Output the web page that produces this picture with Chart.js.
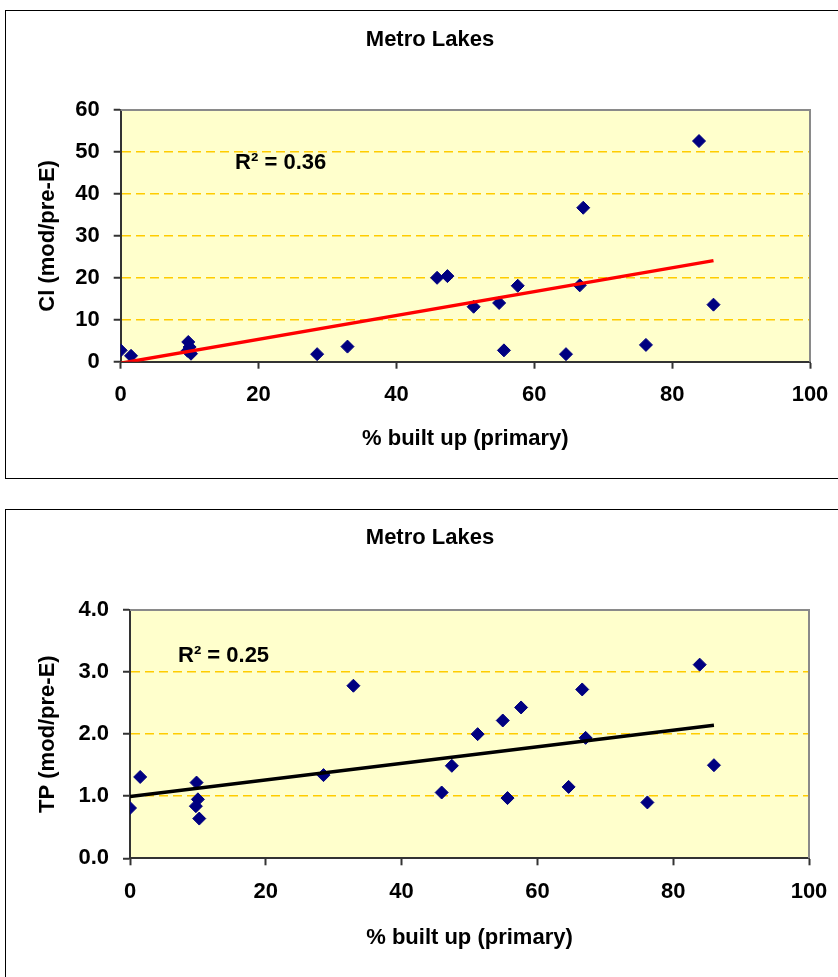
<!DOCTYPE html>
<html>
<head>
<meta charset="utf-8">
<title>Metro Lakes</title>
<script src="https://cdn.jsdelivr.net/npm/chart.js@4.4.1/dist/chart.umd.min.js"></script>
<style>
  html, body { margin: 0; padding: 0; background: #fff; width: 838px; height: 977px; overflow: hidden; }
  .frame { position: absolute; box-sizing: border-box; border: 1px solid #000; }
  canvas { position: absolute; }
</style>
</head>
<body>
<div class="frame" style="left:5px; top:10px; width:851px; height:469px;"></div>
<canvas id="clChart" width="848" height="467" style="left:6px; top:11px;"></canvas>
<div class="frame" style="left:5px; top:509px; width:851px; height:480px;"></div>
<canvas id="tpChart" width="848" height="467" style="left:6px; top:510px;"></canvas>
<script>
// % built-up land in each lake's primary catchment
const builtUp = [0, 1.5, 9.8, 10.0, 9.7, 10.2, 28.5, 32.9, 45.9, 47.4, 51.2, 54.9, 55.6, 57.6, 64.6, 66.6, 67.1, 76.2, 83.9, 86.0];
// chloride, modern / pre-European ratio
const clRatio = [2.7, 1.4, 4.7, 3.5, 2.6, 1.9, 1.8, 3.6, 20.0, 20.4, 13.1, 14.0, 2.7, 18.1, 1.8, 18.2, 36.7, 4.0, 52.6, 13.6];
// total phosphorus, modern / pre-European ratio
const tpRatio = [0.81, 1.31, 1.22, 0.95, 0.84, 0.64, 1.34, 2.78, 1.06, 1.49, 2.00, 2.22, 0.97, 2.43, 1.15, 2.72, 1.94, 0.90, 3.12, 1.50];

const xTicks = [0, 20, 40, 60, 80, 100];
const clTicks = [0, 10, 20, 30, 40, 50, 60];
const tpTicks = [0, 1, 2, 3, 4];

const chartTitle = 'Metro Lakes';
const xTitle = '% built up (primary)';

const FONT = "'Liberation Sans', Arial, sans-serif";
Chart.defaults.font.family = FONT;
Chart.defaults.font.size = 22;
Chart.defaults.font.weight = 'bold';
Chart.defaults.color = '#000';

// ordinary least-squares fit, as used for an Excel linear trendline
function linearFit(xs, ys) {
  const n = xs.length;
  const mx = xs.reduce((a, b) => a + b, 0) / n;
  const my = ys.reduce((a, b) => a + b, 0) / n;
  let sxy = 0, sxx = 0, syy = 0;
  for (let i = 0; i < n; i++) {
    const dx = xs[i] - mx, dy = ys[i] - my;
    sxy += dx * dy; sxx += dx * dx; syy += dy * dy;
  }
  const slope = sxy / sxx;
  return { slope, intercept: my - slope * mx, r2: (sxy * sxy) / (sxx * syy) };
}

const plotBackground = {
  id: 'plotBackground',
  beforeDraw(chart) {
    const { ctx, chartArea: a } = chart;
    ctx.save();
    ctx.fillStyle = '#FFFFCC';
    ctx.fillRect(a.left, a.top, a.right - a.left, a.bottom - a.top);
    ctx.restore();
  }
};

const plotOutline = {
  id: 'plotOutline',
  beforeDatasetsDraw(chart) {
    const { ctx, chartArea: a } = chart;
    ctx.save();
    ctx.strokeStyle = '#8a8a8a';
    ctx.lineWidth = 2;
    ctx.beginPath();
    ctx.moveTo(a.left, a.top);
    ctx.lineTo(a.right, a.top);
    ctx.lineTo(a.right, a.bottom);
    ctx.stroke();
    ctx.restore();
  }
};

// heading centred over the whole framed chart, and the R² note placed in data units
const annotations = {
  id: 'annotations',
  afterDraw(chart, args, opts) {
    const { ctx, scales } = chart;
    ctx.save();
    ctx.fillStyle = '#000';
    ctx.textBaseline = 'middle';
    ctx.font = 'bold 22px ' + FONT;
    ctx.textAlign = 'center';
    ctx.fillText(opts.title, opts.titleX, opts.titleY);
    ctx.textAlign = 'left';
    const px = scales.x.getPixelForValue(opts.noteAt[0]);
    const py = scales.y.getPixelForValue(opts.noteAt[1]);
    ctx.fillText('R² = ' + opts.r2.toFixed(2), px, py);
    ctx.restore();
  }
};

function buildChart(id, ys, yTicks, yTitle, cfg) {
  const fit = linearFit(builtUp, ys);
  const xMin = Math.min(...builtUp), xMax = Math.max(...builtUp);
  const points = builtUp.map((x, i) => ({ x, y: ys[i] }));
  const trend = [xMin, xMax].map(x => ({ x, y: fit.intercept + fit.slope * x }));

  return new Chart(document.getElementById(id), {
    type: 'scatter',
    data: {
      datasets: [
        {
          type: 'line',
          data: trend,
          borderColor: cfg.trendColor,
          borderWidth: 3.5,
          pointRadius: 0,
          fill: false,
          clip: 0,
          order: 0
        },
        {
          data: points,
          pointStyle: 'rectRot',
          pointRadius: 6.5,
          backgroundColor: '#000080',
          borderColor: '#000080',
          borderWidth: 1,
          order: 1
        }
      ]
    },
    options: {
      responsive: false,
      animation: false,
      events: [],
      layout: { padding: { top: cfg.areaTop, right: cfg.padRight, left: 0, bottom: 0 } },
      plugins: {
        legend: { display: false },
        tooltip: { enabled: false },
        annotations: {
          title: chartTitle,
          titleX: 424,
          titleY: cfg.titleY,
          noteAt: cfg.noteAt,
          r2: fit.r2
        }
      },
      scales: {
        x: {
          type: 'linear',
          min: 0,
          max: 100,
          afterBuildTicks: s => { s.ticks = xTicks.map(v => ({ value: v })); },
          afterFit: s => { s.height = cfg.xHeight; },
          grid: { drawOnChartArea: false, drawTicks: true, tickLength: 7, tickColor: '#333', tickWidth: 2 },
          border: { display: true, color: '#333', width: 2 },
          ticks: { padding: 13, font: { size: 22, weight: 'bold' }, color: '#000' },
          title: {
            display: true,
            text: xTitle,
            font: { size: 22, weight: 'bold' },
            color: '#000',
            padding: { top: 0, bottom: cfg.xTitlePad }
          }
        },
        y: {
          type: 'linear',
          min: yTicks[0],
          max: yTicks[yTicks.length - 1],
          afterBuildTicks: s => { s.ticks = yTicks.map(v => ({ value: v })); },
          afterFit: s => { s.width = cfg.yWidth; },
          grid: {
            drawTicks: true,
            tickLength: 7,
            tickColor: '#333',
            tickWidth: 2,
            lineWidth: 1.5,
            color: c => (c.tick && (c.tick.value === yTicks[0] || c.tick.value === yTicks[yTicks.length - 1]))
              ? 'rgba(0,0,0,0)' : '#FFCC00'
          },
          border: { display: true, color: '#333', width: 2, dash: [9, 5] },
          ticks: {
            padding: 14,
            font: { size: 22, weight: 'bold' },
            color: '#000',
            callback: v => v.toFixed(cfg.decimals)
          },
          title: {
            display: true,
            text: yTitle,
            font: { size: 22, weight: 'bold' },
            color: '#000',
            padding: { top: 29, bottom: 0 }
          }
        }
      }
    },
    plugins: [plotBackground, plotOutline, annotations]
  });
}

buildChart('clChart', clRatio, clTicks, 'Cl (mod/pre-E)', {
  trendColor: '#FF0000', decimals: 0,
  areaTop: 99, padRight: 44, yWidth: 114.7, xHeight: 116.3, xTitlePad: 26,
  titleY: 29, noteAt: [16.6, 47.3]
});

buildChart('tpChart', tpRatio, tpTicks, 'TP (mod/pre-E)', {
  trendColor: '#000000', decimals: 1,
  areaTop: 100, padRight: 45, yWidth: 124, xHeight: 118.7, xTitlePad: 26,
  titleY: 28, noteAt: [7.07, 3.26]
});
</script>
</body>
</html>
